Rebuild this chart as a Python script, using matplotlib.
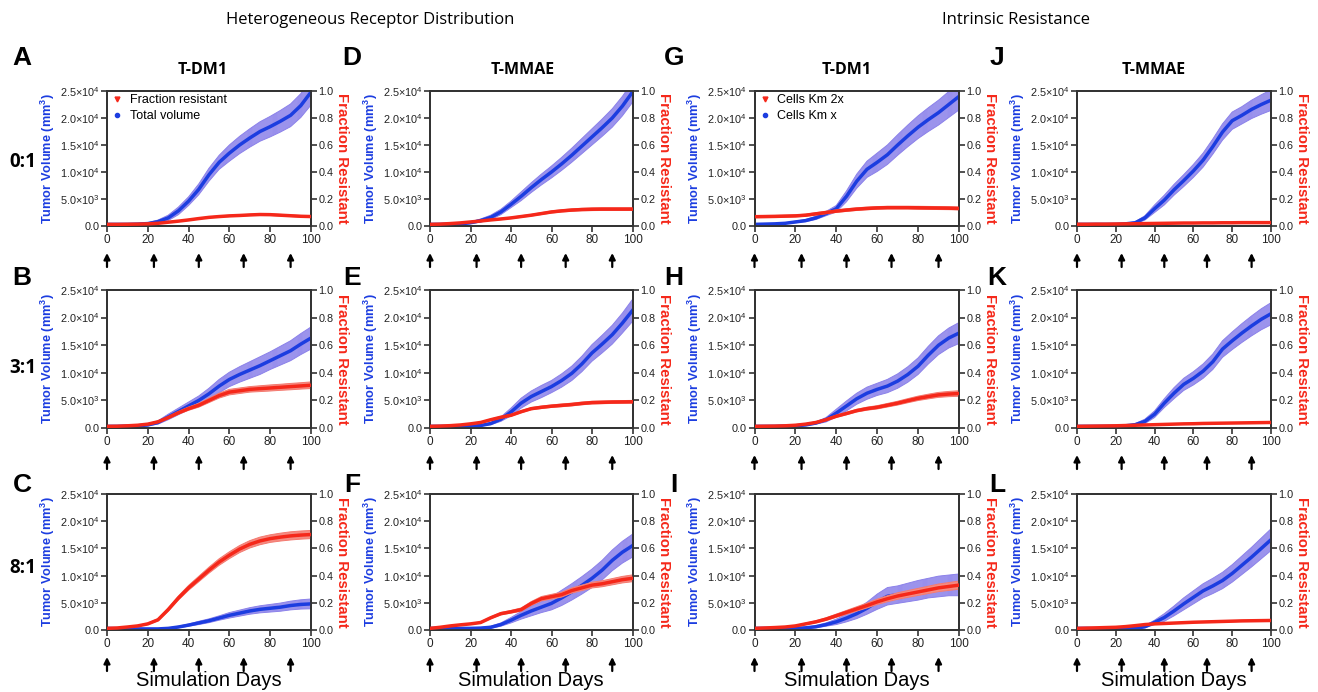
import matplotlib
matplotlib.use("Agg")
import matplotlib.pyplot as plt
from matplotlib.lines import Line2D
import numpy as np

plt.rcParams['font.family'] = ['Liberation Sans', 'DejaVu Sans']
plt.rcParams['mathtext.default'] = 'regular'
plt.rcParams['hatch.linewidth'] = 0.6

# ---------------- data (volume in 1e3 mm^3, fraction 0-1) ----------------
days = [0, 5, 10, 15, 20, 25, 30, 35, 40, 45, 50, 55, 60, 65, 70, 75, 80, 85, 90, 95, 100]
dose_days = [0, 23, 45, 67, 90]

A_vol = [0.3, 0.3, 0.3, 0.35, 0.45, 0.8, 1.5, 2.8, 4.6, 6.8, 9.5, 11.8, 13.5, 15.0, 16.3, 17.5, 18.4, 19.4, 20.5, 22.3, 24.8]
A_vol_err = [0, 0, 0.05, 0.1, 0.15, 0.3, 0.5, 0.7, 0.8, 1.0, 1.2, 1.3, 1.5, 1.6, 1.7, 1.8, 1.9, 2.0, 2.1, 2.2, 2.4]
A_frac = [0.012, 0.012, 0.013, 0.014, 0.016, 0.02, 0.028, 0.036, 0.045, 0.055, 0.064, 0.07, 0.075, 0.078, 0.082, 0.085, 0.084, 0.08, 0.076, 0.072, 0.07]
A_frac_err = [0.002, 0.002, 0.002, 0.002, 0.002, 0.003, 0.003, 0.003, 0.004, 0.004, 0.004, 0.005, 0.005, 0.005, 0.005, 0.006, 0.006, 0.006, 0.006, 0.006, 0.006]

B_vol = [0.3, 0.3, 0.35, 0.4, 0.55, 1.0, 2.0, 3.0, 4.0, 5.0, 6.2, 7.6, 8.8, 9.7, 10.5, 11.3, 12.2, 13.1, 14.0, 15.2, 16.3]
B_vol_err = [0, 0, 0.05, 0.1, 0.15, 0.3, 0.5, 0.6, 0.7, 0.8, 1.0, 1.2, 1.3, 1.4, 1.5, 1.6, 1.6, 1.7, 1.8, 1.9, 2.0]
B_frac = [0.012, 0.013, 0.016, 0.02, 0.028, 0.045, 0.075, 0.11, 0.14, 0.165, 0.2, 0.235, 0.26, 0.27, 0.28, 0.285, 0.29, 0.295, 0.3, 0.305, 0.31]
B_frac_err = [0.002, 0.002, 0.003, 0.003, 0.004, 0.005, 0.008, 0.01, 0.012, 0.014, 0.016, 0.018, 0.02, 0.02, 0.02, 0.021, 0.022, 0.022, 0.023, 0.023, 0.024]

C_vol = [0.3, 0.25, 0.2, 0.2, 0.2, 0.2, 0.3, 0.55, 0.9, 1.3, 1.7, 2.2, 2.7, 3.1, 3.5, 3.8, 4.0, 4.2, 4.5, 4.7, 4.8]
C_vol_err = [0, 0, 0, 0.02, 0.03, 0.05, 0.08, 0.15, 0.2, 0.3, 0.35, 0.4, 0.5, 0.55, 0.6, 0.65, 0.7, 0.75, 0.8, 0.85, 0.9]
C_frac = [0.012, 0.015, 0.022, 0.03, 0.045, 0.075, 0.15, 0.235, 0.31, 0.375, 0.44, 0.5, 0.55, 0.595, 0.63, 0.655, 0.672, 0.683, 0.692, 0.698, 0.702]
C_frac_err = [0.002, 0.002, 0.003, 0.004, 0.005, 0.008, 0.012, 0.015, 0.018, 0.02, 0.022, 0.024, 0.025, 0.026, 0.027, 0.028, 0.028, 0.029, 0.03, 0.03, 0.03]

D_vol = [0.3, 0.3, 0.35, 0.4, 0.6, 1.0, 1.6, 2.6, 4.0, 5.5, 7.1, 8.6, 10.0, 11.5, 13.1, 14.8, 16.5, 18.2, 20.0, 22.2, 24.8]
D_vol_err = [0, 0, 0.05, 0.1, 0.15, 0.3, 0.4, 0.5, 0.6, 0.8, 0.9, 1.0, 1.1, 1.2, 1.3, 1.4, 1.5, 1.6, 1.7, 1.8, 1.9]
D_frac = [0.012, 0.014, 0.018, 0.023, 0.03, 0.037, 0.045, 0.052, 0.06, 0.07, 0.08, 0.092, 0.104, 0.112, 0.118, 0.122, 0.124, 0.125, 0.125, 0.125, 0.125]
D_frac_err = [0.002, 0.002, 0.002, 0.003, 0.003, 0.004, 0.004, 0.005, 0.005, 0.006, 0.006, 0.007, 0.008, 0.008, 0.009, 0.009, 0.01, 0.01, 0.01, 0.01, 0.01]

E_vol = [0.3, 0.3, 0.3, 0.3, 0.3, 0.45, 0.8, 1.6, 2.9, 4.5, 5.7, 6.6, 7.5, 8.6, 9.9, 11.6, 13.6, 15.2, 16.9, 19.0, 21.3]
E_vol_err = [0, 0, 0, 0.05, 0.05, 0.1, 0.2, 0.4, 0.7, 0.9, 1.0, 1.1, 1.1, 1.2, 1.3, 1.4, 1.5, 1.6, 1.7, 1.8, 2.0]
E_frac = [0.012, 0.014, 0.017, 0.022, 0.03, 0.04, 0.06, 0.078, 0.092, 0.118, 0.14, 0.15, 0.158, 0.164, 0.17, 0.178, 0.184, 0.186, 0.188, 0.189, 0.19]
E_frac_err = [0.002, 0.002, 0.002, 0.003, 0.003, 0.004, 0.005, 0.006, 0.007, 0.008, 0.008, 0.009, 0.009, 0.01, 0.01, 0.01, 0.01, 0.01, 0.01, 0.01, 0.01]

F_vol = [0.3, 0.3, 0.3, 0.3, 0.3, 0.35, 0.5, 1.0, 1.8, 2.7, 3.5, 4.2, 4.9, 5.9, 7.0, 8.2, 9.5, 11.0, 12.8, 14.3, 15.5]
F_vol_err = [0, 0, 0, 0, 0.05, 0.1, 0.2, 0.3, 0.5, 0.7, 0.9, 1.0, 1.2, 1.4, 1.5, 1.6, 1.7, 1.8, 1.9, 2.0, 2.1]
F_frac = [0.012, 0.02, 0.03, 0.038, 0.045, 0.055, 0.09, 0.12, 0.134, 0.15, 0.195, 0.23, 0.245, 0.26, 0.29, 0.31, 0.33, 0.34, 0.355, 0.37, 0.38]
F_frac_err = [0.002, 0.002, 0.003, 0.003, 0.004, 0.005, 0.007, 0.009, 0.01, 0.012, 0.014, 0.016, 0.017, 0.018, 0.019, 0.02, 0.021, 0.022, 0.023, 0.024, 0.025]

G_vol = [0.3, 0.35, 0.4, 0.5, 0.75, 1.0, 1.5, 2.3, 3.2, 5.5, 8.3, 10.5, 11.8, 13.2, 15.0, 16.7, 18.3, 19.7, 21.0, 22.5, 24.0]
G_vol_err = [0, 0, 0.05, 0.1, 0.15, 0.2, 0.3, 0.4, 0.6, 1.0, 1.3, 1.5, 1.7, 1.8, 1.9, 2.0, 2.1, 2.2, 2.3, 2.4, 2.5]
G_frac = [0.069, 0.07, 0.071, 0.073, 0.075, 0.08, 0.09, 0.1, 0.11, 0.118, 0.125, 0.13, 0.134, 0.136, 0.136, 0.136, 0.135, 0.134, 0.133, 0.132, 0.13]
G_frac_err = [0.008, 0.008, 0.008, 0.008, 0.008, 0.008, 0.009, 0.009, 0.009, 0.01, 0.01, 0.01, 0.01, 0.01, 0.01, 0.01, 0.011, 0.011, 0.011, 0.011, 0.011]

H_vol = [0.3, 0.3, 0.3, 0.35, 0.4, 0.55, 0.9, 1.5, 2.7, 4.0, 5.3, 6.3, 7.0, 7.6, 8.5, 9.7, 11.2, 13.2, 15.0, 16.3, 17.2]
H_vol_err = [0, 0, 0, 0.05, 0.05, 0.1, 0.2, 0.4, 0.7, 0.9, 1.0, 1.1, 1.1, 1.2, 1.3, 1.4, 1.5, 1.6, 1.7, 1.8, 1.9]
H_frac = [0.012, 0.013, 0.014, 0.016, 0.02, 0.028, 0.04, 0.06, 0.085, 0.105, 0.126, 0.14, 0.15, 0.165, 0.18, 0.198, 0.215, 0.228, 0.24, 0.246, 0.25]
H_frac_err = [0.002, 0.002, 0.002, 0.002, 0.003, 0.004, 0.005, 0.006, 0.008, 0.009, 0.01, 0.011, 0.012, 0.013, 0.014, 0.015, 0.016, 0.017, 0.018, 0.019, 0.02]

I_vol = [0.3, 0.3, 0.3, 0.3, 0.3, 0.4, 0.6, 1.0, 1.5, 2.2, 3.0, 4.0, 5.2, 6.2, 6.5, 6.9, 7.3, 7.7, 8.0, 8.2, 8.3]
I_vol_err = [0, 0, 0, 0.05, 0.05, 0.1, 0.2, 0.3, 0.5, 0.7, 0.9, 1.1, 1.4, 1.6, 1.6, 1.7, 1.8, 1.8, 1.9, 1.9, 2.0]
I_frac = [0.012, 0.015, 0.018, 0.022, 0.03, 0.045, 0.06, 0.08, 0.105, 0.13, 0.155, 0.18, 0.207, 0.23, 0.25, 0.265, 0.28, 0.295, 0.31, 0.32, 0.33]
I_frac_err = [0.002, 0.002, 0.003, 0.003, 0.004, 0.006, 0.008, 0.01, 0.012, 0.014, 0.016, 0.018, 0.02, 0.022, 0.024, 0.025, 0.026, 0.027, 0.028, 0.029, 0.03]

J_vol = [0.3, 0.3, 0.3, 0.3, 0.3, 0.4, 0.6, 1.5, 3.2, 4.8, 6.7, 8.4, 10.2, 12.2, 14.7, 17.4, 19.5, 20.5, 21.6, 22.5, 23.3]
J_vol_err = [0, 0, 0, 0, 0.05, 0.1, 0.2, 0.4, 0.7, 0.9, 1.0, 1.1, 1.2, 1.3, 1.4, 1.5, 1.6, 1.6, 1.7, 1.8, 1.9]
J_frac = [0.013, 0.013, 0.014, 0.014, 0.015, 0.016, 0.017, 0.018, 0.019, 0.02, 0.021, 0.022, 0.022, 0.023, 0.023, 0.024, 0.024, 0.025, 0.025, 0.025, 0.025]
J_frac_err = [0.001, 0.001, 0.001, 0.001, 0.001, 0.001, 0.001, 0.002, 0.002, 0.002, 0.002, 0.002, 0.002, 0.002, 0.002, 0.002, 0.002, 0.002, 0.002, 0.002, 0.002]

K_vol = [0.3, 0.3, 0.3, 0.3, 0.3, 0.4, 0.6, 1.2, 2.5, 4.5, 6.3, 7.9, 9.0, 10.3, 12.0, 14.3, 15.8, 17.2, 18.5, 19.7, 20.7]
K_vol_err = [0, 0, 0, 0, 0.05, 0.1, 0.2, 0.4, 0.6, 0.8, 1.0, 1.1, 1.2, 1.3, 1.4, 1.5, 1.6, 1.7, 1.8, 1.9, 2.0]
K_frac = [0.012, 0.013, 0.014, 0.015, 0.016, 0.018, 0.02, 0.022, 0.024, 0.026, 0.028, 0.03, 0.031, 0.033, 0.034, 0.035, 0.036, 0.037, 0.038, 0.039, 0.04]
K_frac_err = [0.001, 0.001, 0.001, 0.001, 0.001, 0.001, 0.002, 0.002, 0.002, 0.002, 0.002, 0.002, 0.002, 0.002, 0.003, 0.003, 0.003, 0.003, 0.003, 0.003, 0.003]

L_vol = [0.3, 0.3, 0.25, 0.2, 0.2, 0.2, 0.3, 0.6, 1.4, 2.3, 3.5, 4.8, 6.0, 7.2, 8.1, 9.1, 10.4, 11.9, 13.4, 15.0, 16.6]
L_vol_err = [0, 0, 0, 0, 0.05, 0.05, 0.1, 0.2, 0.4, 0.7, 0.9, 1.1, 1.2, 1.3, 1.4, 1.5, 1.6, 1.7, 1.8, 1.9, 2.0]
L_frac = [0.012, 0.014, 0.016, 0.018, 0.02, 0.025, 0.032, 0.04, 0.045, 0.048, 0.051, 0.054, 0.057, 0.059, 0.061, 0.063, 0.065, 0.067, 0.068, 0.069, 0.07]
L_frac_err = [0.001, 0.001, 0.001, 0.001, 0.002, 0.002, 0.002, 0.002, 0.003, 0.003, 0.003, 0.003, 0.003, 0.003, 0.003, 0.004, 0.004, 0.004, 0.004, 0.004, 0.004]

panels = {
    'A': (A_vol, A_vol_err, A_frac, A_frac_err), 'B': (B_vol, B_vol_err, B_frac, B_frac_err),
    'C': (C_vol, C_vol_err, C_frac, C_frac_err), 'D': (D_vol, D_vol_err, D_frac, D_frac_err),
    'E': (E_vol, E_vol_err, E_frac, E_frac_err), 'F': (F_vol, F_vol_err, F_frac, F_frac_err),
    'G': (G_vol, G_vol_err, G_frac, G_frac_err), 'H': (H_vol, H_vol_err, H_frac, H_frac_err),
    'I': (I_vol, I_vol_err, I_frac, I_frac_err), 'J': (J_vol, J_vol_err, J_frac, J_frac_err),
    'K': (K_vol, K_vol_err, K_frac, K_frac_err), 'L': (L_vol, L_vol_err, L_frac, L_frac_err),
}
letters = [['A', 'B', 'C'], ['D', 'E', 'F'], ['G', 'H', 'I'], ['J', 'K', 'L']]
col_titles = ['T-DM1', 'T-MMAE', 'T-DM1', 'T-MMAE']
row_labels = ['0:1', '3:1', '8:1']
y_ticks = [0, 5000, 10000, 15000, 20000, 25000]
y_ticklabels = ['0.0', '5.0×10$^3$', '1.0×10$^4$', '1.5×10$^4$', '2.0×10$^4$', '2.5×10$^4$']
r_ticks = [0.0, 0.2, 0.4, 0.6, 0.8, 1.0]
x_ticks = [0, 20, 40, 60, 80, 100]

# ---------------- layout ----------------
W, H = 1318, 692
fig = plt.figure(figsize=(W / 100, H / 100), dpi=100)
col_l = [107, 430, 754.5, 1077]
col_r = [311, 632.5, 959, 1271]
row_t = [91, 290, 494]
row_b = [226, 428, 630]

BLUE = '#1c3de0'
BLUE_BAND = '#d9d5f8'
BLUE_EDGE = '#8c82ea'
RED = '#f5281a'
RED_BAND = '#fcd0cb'
RED_EDGE = '#f47a70'
SPINE = '#333333'


def fxy(px, py):
    return px / W, 1 - py / H


for c in range(4):
    for r in range(3):
        key = letters[c][r]
        vol, vol_err, frac, frac_err = panels[key]
        d = np.array(days, float)
        v = np.array(vol) * 1000
        ve = np.array(vol_err) * 1000
        f = np.array(frac)
        fe = np.array(frac_err)
        left, bottom = fxy(col_l[c], row_b[r])
        ax = fig.add_axes([left, bottom, (col_r[c] - col_l[c]) / W, (row_b[r] - row_t[r]) / H])
        ax2 = ax.twinx()
        # blue (tumor volume)
        ax.fill_between(d, v - ve, v + ve, facecolor=BLUE_BAND, edgecolor=BLUE_EDGE,
                        hatch='|' * 16, linewidth=0.0, zorder=1)
        ax.plot(d, v - ve, color=BLUE_EDGE, lw=0.7, zorder=2)
        ax.plot(d, v + ve, color=BLUE_EDGE, lw=0.7, zorder=2)
        ax.plot(d, v, color=BLUE, lw=2.5, zorder=3)
        # red (fraction resistant)
        ax2.fill_between(d, f - fe, f + fe, facecolor=RED_BAND, edgecolor=RED_EDGE,
                         hatch='|' * 16, linewidth=0.0, zorder=1)
        ax2.plot(d, f - fe, color=RED_EDGE, lw=0.7, zorder=2)
        ax2.plot(d, f + fe, color=RED_EDGE, lw=0.7, zorder=2)
        ax2.plot(d, f, color=RED, lw=2.5, zorder=3)

        ax.set_xlim(0, 100)
        ax.set_ylim(0, 25000)
        ax2.set_ylim(0, 1.0)
        ax.set_xticks(x_ticks)
        ax.set_xticklabels([str(t) for t in x_ticks])
        ax.set_yticks(y_ticks)
        ax.set_yticklabels(y_ticklabels)
        ax2.set_yticks(r_ticks)
        ax2.set_yticklabels(['%.1f' % t for t in r_ticks])
        for a in (ax, ax2):
            for s in a.spines.values():
                s.set_color(SPINE)
                s.set_linewidth(1.3)
        ax.tick_params(axis='x', direction='out', length=4, width=1.2, color=SPINE,
                       labelsize=8.5, labelcolor='#222222', pad=2)
        ax.tick_params(axis='y', direction='out', length=4, width=1.2, color=SPINE,
                       labelsize=7.8, labelcolor='#222222', pad=1.5)
        ax2.tick_params(axis='y', direction='out', length=4, width=1.2, color=SPINE,
                        labelsize=7.8, labelcolor='#222222', pad=1.5)
        ax.set_ylabel('Tumor Volume (mm$^3$)', color=BLUE, fontweight='bold',
                      fontsize=9.2, labelpad=2)
        ax2.set_ylabel('Fraction Resistant', color=RED, fontweight='bold',
                       fontsize=10.8, rotation=270, labelpad=11)

        # dosing arrows
        hpx = row_b[r] - row_t[r]
        for dd in dose_days:
            ax.annotate('', xy=(dd, -27 / hpx), xytext=(dd, -41 / hpx),
                        xycoords=('data', 'axes fraction'),
                        textcoords=('data', 'axes fraction'),
                        arrowprops=dict(arrowstyle='-|>', color='black', lw=1.6,
                                        mutation_scale=9, shrinkA=0, shrinkB=0),
                        annotation_clip=False)

        if key == 'A' or key == 'G':
            labs = ['Fraction resistant', 'Total volume'] if key == 'A' else ['Cells Km 2x', 'Cells Km x']
            handles = [Line2D([], [], ls='none', marker='v', ms=3.5, color=RED),
                       Line2D([], [], ls='none', marker='o', ms=3.0, color=BLUE)]
            ax2.legend(handles, labs, loc='upper left', bbox_to_anchor=(-0.03, 1.04),
                       frameon=False, fontsize=9, handletextpad=0.4, handlelength=1.2,
                       labelspacing=0.3, borderaxespad=0.3)

        if r == 2:
            cx = (col_l[c] + col_r[c]) / 2
            fig.text(*fxy(cx, 680), 'Simulation Days', ha='center', va='center', fontsize=14.5)

# ---------------- texts ----------------
fig.text(*fxy(370, 20), 'Heterogeneous Receptor Distribution', ha='center', va='center',
         fontsize=12, family=['Open Sans', 'DejaVu Sans'])
fig.text(*fxy(1016, 20), 'Intrinsic Resistance', ha='center', va='center',
         fontsize=12, family=['Open Sans', 'DejaVu Sans'])

title_x = [203, 523, 847, 1154]
for c in range(4):
    fig.text(*fxy(title_x[c], 70), col_titles[c], ha='center', va='center',
             fontsize=11.5, fontweight='bold', family=['Open Sans', 'DejaVu Sans'])

letter_x = [22, 352, 674, 997]
letter_y = [58, 278, 485]
for c in range(4):
    for r in range(3):
        fig.text(*fxy(letter_x[c], letter_y[r]), letters[c][r], ha='center', va='center',
                 fontsize=19, fontweight='bold')

row_y = [162, 368, 568]
for r in range(3):
    fig.text(*fxy(23, row_y[r]), row_labels[r], ha='center', va='center',
             fontsize=13.5, fontweight='bold', family=['Open Sans', 'DejaVu Sans'])

fig.savefig('out.png', dpi=100)
